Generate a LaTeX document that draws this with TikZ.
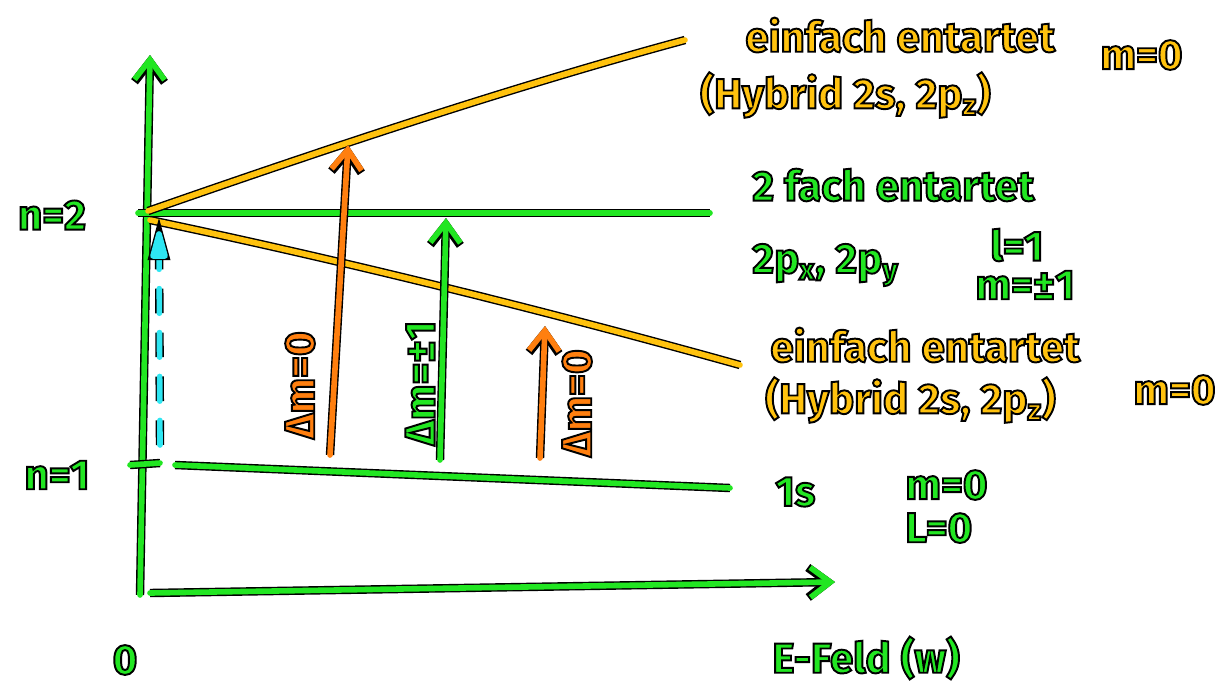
\documentclass[tikz,border=0pt]{standalone}
\usepackage{fontspec}
\setmainfont{Fira Sans}
\usetikzlibrary{arrows.meta}

\definecolor{lvlgreen}{HTML}{22E622}
\definecolor{hybamber}{HTML}{FFC20E}
\definecolor{trorange}{HTML}{FF7F0F}
\definecolor{dashcyan}{HTML}{2EE6F2}

\newcommand\inked[1]{\special{pdf:literal direct 0 0 0 RG 1.1 w 2 Tr}#1\special{pdf:literal direct 0 Tr}}

\tikzset{
  pen/.style={line width=3.2pt, line cap=round, line join=round,
    preaction={draw=black, line width=4.8pt}},
  dashpen/.style={line width=3.2pt, line cap=round, dash pattern=on 14pt off 11pt,
    preaction={draw=black, line width=4.8pt, dash pattern=on 14pt off 11pt}},
  barb/.style={-{Straight Barb[length=4mm,width=6mm]}},
  lbl/.style={font=\fontsize{24}{28}\selectfont\bfseries, inner sep=0pt},
}

\begin{document}
\begin{tikzpicture}[x=0.02cm, y=-0.02cm]
  \useasboundingbox (0,0) rectangle (1223,687);

  \coordinate (o) at (140,595);
  \coordinate (ytop) at (150,55);
  \coordinate (xs) at (150,593);
  \coordinate (xtop) at (835,582);
  \coordinate (n2) at (138,213);
  \coordinate (n2e) at (710,213);
  \coordinate (t1a) at (130,465);
  \coordinate (t1b) at (160,463);
  \coordinate (s1a) at (175,465);
  \coordinate (s1b) at (730,488);
  \coordinate (up0) at (148,211);
  \coordinate (up) at (685,40);
  \coordinate (dn0) at (150,220);
  \coordinate (dn) at (740,365);

  \coordinate (c0) at (160,445);
  \coordinate (c1) at (159,234);
  \coordinate (a0) at (330,455);
  \coordinate (a1) at (348,145);
  \coordinate (g0) at (440,460);
  \coordinate (g1) at (446,218);
  \coordinate (b0) at (540,458);
  \coordinate (b1) at (545,326);

  \draw[pen, lvlgreen, barb] (o) -- (ytop);
  \draw[pen, lvlgreen, barb] (xs) -- (xtop);
  \draw[pen, lvlgreen] (n2) -- (n2e);
  \draw[pen, lvlgreen] (t1a) -- (t1b);
  \draw[pen, lvlgreen] (s1a) -- (s1b);

  \draw[pen, hybamber] (up0) .. controls (300,158) and (500,90) .. (up);
  \draw[pen, hybamber] (dn0) .. controls (350,262) and (550,312) .. (dn);

  \draw[dashpen, dashcyan] (c0) -- (c1);
  \draw[pen, fill=dashcyan, draw=dashcyan] (c1) -- ++(-6,22) -- ++(12,0) -- cycle;
  \draw[pen, trorange, barb] (a0) -- (a1);
  \draw[pen, lvlgreen, barb] (g0) -- (g1);
  \draw[pen, trorange, barb] (b0) -- (b1);

  \node[lbl, text=lvlgreen] (n2lbl) at (52,215) {\inked{n=2}};
  \node[lbl, text=lvlgreen] (n1lbl) at (57,475) {\inked{n=1}};
  \node[lbl, text=lvlgreen] (zero) at (125,660) {\inked{0}};
  \node[lbl, text=lvlgreen, anchor=west] (efeld) at (772,658) {\inked{E-Feld (w)}};

  \node[lbl, text=trorange, rotate=90] (dm0a) at (300,385) {\inked{Δm=0}};
  \node[lbl, text=lvlgreen, rotate=90] (dm1) at (420,383) {\inked{Δm=±1}};
  \node[lbl, text=trorange, rotate=90] (dm0b) at (577,403) {\inked{Δm=0}};

  \node[lbl, text=hybamber, anchor=west] (up1) at (745,35) {\inked{einfach entartet}};
  \node[lbl, text=hybamber, anchor=west] (upm) at (1100,55) {\inked{m=0}};
  \node[lbl, text=hybamber, anchor=west] (up2) at (700,95) {\inked{(Hybrid 2s, 2p\textsubscript{z})}};

  \node[lbl, text=lvlgreen, anchor=west] (mid1) at (752,185) {\inked{2 fach entartet}};
  \node[lbl, text=lvlgreen, anchor=west] (mid2) at (752,265) {\inked{2p\textsubscript{x}, 2p\textsubscript{y}}};
  \node[lbl, text=lvlgreen, anchor=west] (midl) at (990,245) {\inked{l=1}};
  \node[lbl, text=lvlgreen, anchor=west] (midm) at (975,285) {\inked{m=±1}};

  \node[lbl, text=hybamber, anchor=west] (dn1) at (770,345) {\inked{einfach entartet}};
  \node[lbl, text=hybamber, anchor=west] (dn2) at (765,400) {\inked{(Hybrid 2s, 2p\textsubscript{z})}};
  \node[lbl, text=hybamber, anchor=west] (dnm) at (1133,390) {\inked{m=0}};

  \node[lbl, text=lvlgreen, anchor=west] (s1lbl) at (775,492) {\inked{1s}};
  \node[lbl, text=lvlgreen, anchor=west] (s1m) at (905,485) {\inked{m=0}};
  \node[lbl, text=lvlgreen, anchor=west] (s1l) at (905,528) {\inked{L=0}};
\end{tikzpicture}
\end{document}
